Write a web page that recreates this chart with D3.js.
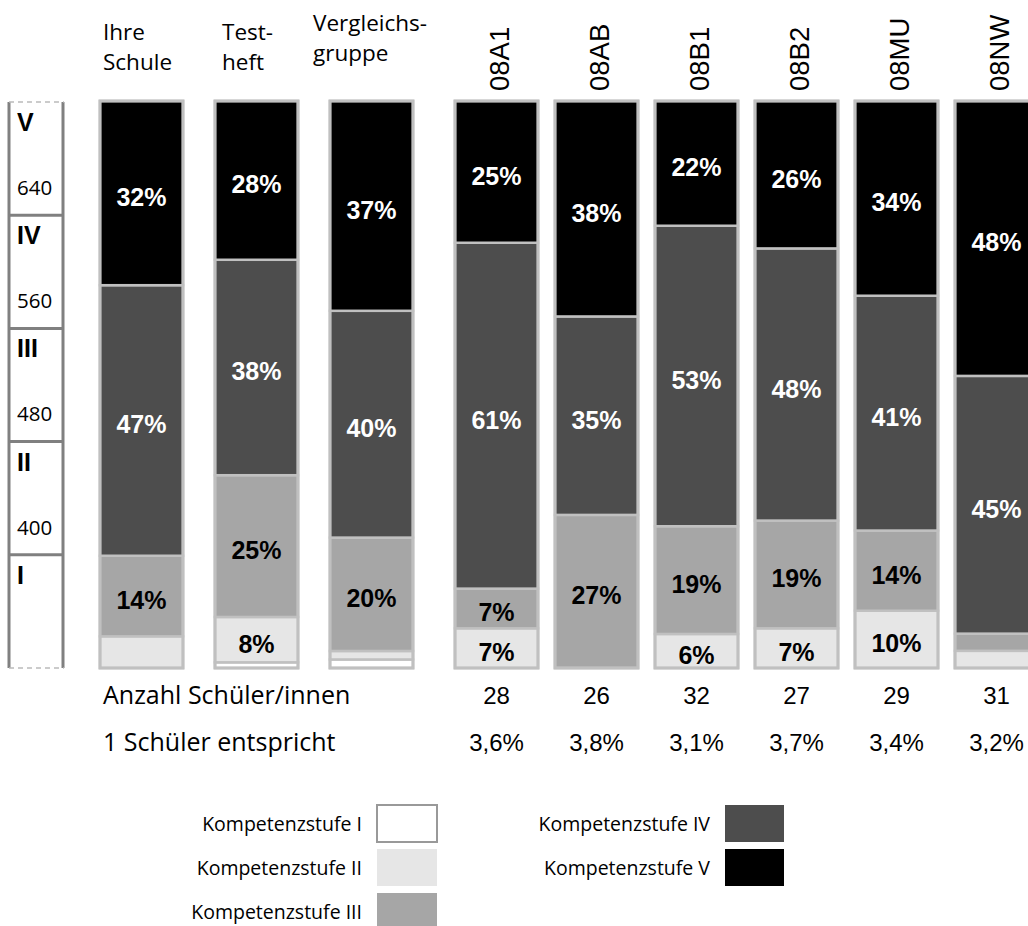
<!DOCTYPE html>
<html>
<head>
<meta charset="utf-8">
<script src="https://cdn.jsdelivr.net/npm/d3@7"></script>
<style>
  body { margin: 0; background: #fff; }
  svg { display: block; }
</style>
</head>
<body>
<div id="chart"></div>
<script>
// groups shown on the left, then the classes
var groups = ["Ihre Schule", "Testheft", "Vergleichsgruppe"];
var groupHeader = [["Ihre", "Schule"], ["Test-", "heft"], ["Vergleichs-", "gruppe"]];
var classes = ["08A1", "08AB", "08B1", "08B2", "08MU", "08NW"];

// percent per Kompetenzstufe, same order as groups + classes
var stufeV   = [32, 28, 37, 25, 38, 22, 26, 34, 48];
var stufeIV  = [47, 38, 40, 61, 35, 53, 48, 41, 45];
var stufeIII = [14, 25, 20, 7, 27, 19, 19, 14, 3];
var stufeII  = [5.5, 8, 1.5, 7, 0, 6, 7, 10, 3];
var stufeI   = [0, 1, 1.5, 0, 0, 0, 0, 0, 0];

var anzahl = [28, 26, 32, 27, 29, 31];
var entspricht = ["3,6%", "3,8%", "3,1%", "3,7%", "3,4%", "3,2%"];

var scaleLevels = ["V", "IV", "III", "II", "I"];
var scalePoints = ["640", "560", "480", "400", ""];

var legendLeft = ["Kompetenzstufe I", "Kompetenzstufe II", "Kompetenzstufe III"];
var legendRight = ["Kompetenzstufe IV", "Kompetenzstufe V"];

var keys = ["I", "II", "III", "IV", "V"];
var colors = { I: "#ffffff", II: "#e6e6e6", III: "#a6a6a6", IV: "#4d4d4d", V: "#000000" };

var width = 1028, height = 926;
var svg = d3.select("#chart").append("svg").attr("width", width).attr("height", height);

var bars = groups.concat(classes);
var data = bars.map(function (name, i) {
  return { name: name, I: stufeI[i], II: stufeII[i], III: stufeIII[i], IV: stufeIV[i], V: stufeV[i] };
});

var series = d3.stack().keys(keys).offset(d3.stackOffsetExpand)(data);

var xGroup = d3.scaleBand().domain(groups).range([84, 429]).paddingInner(0.278).paddingOuter(0.139);
var xClass = d3.scaleBand().domain(classes).range([446.5, 1046.5]).paddingInner(0.17).paddingOuter(0.085);
function xPos(name) {
  return groups.indexOf(name) >= 0 ? xGroup(name) : xClass(name);
}
var bw = xClass.bandwidth();

var y = d3.scaleLinear().domain([0, 1]).range([668, 101]);

// left scale box
var yRow = d3.scaleBand().domain(scaleLevels).range([102, 668]);
var scaleG = svg.append("g");
scaleG.append("line").attr("x1", 9).attr("x2", 9).attr("y1", 102).attr("y2", 668)
  .attr("stroke", "#808080").attr("stroke-width", 3);
scaleG.append("line").attr("x1", 63).attr("x2", 63).attr("y1", 102).attr("y2", 668)
  .attr("stroke", "#808080").attr("stroke-width", 3);
[102, 668].forEach(function (yy) {
  scaleG.append("line").attr("x1", 9).attr("x2", 64).attr("y1", yy).attr("y2", yy)
    .attr("stroke", "#bbbbbb").attr("stroke-width", 1.5).attr("stroke-dasharray", "5,4");
});
scaleG.selectAll(".sep").data(scaleLevels.slice(1)).enter().append("line")
  .attr("x1", 9).attr("x2", 63)
  .attr("y1", function (d) { return yRow(d); })
  .attr("y2", function (d) { return yRow(d); })
  .attr("stroke", "#808080").attr("stroke-width", 3);
scaleG.selectAll(".lvl").data(scaleLevels).enter().append("text")
  .attr("x", 17).attr("y", function (d) { return yRow(d) + 29; })
  .style("font-family", "Liberation Sans, Arial, sans-serif")
  .style("font-weight", "bold").style("font-size", "25px")
  .text(function (d) { return d; });
scaleG.selectAll(".pt").data(scalePoints).enter().append("text")
  .attr("x", 17).attr("y", function (d, i) { return yRow(scaleLevels[i]) + 93; })
  .style("font-family", "Open Sans, sans-serif").style("font-size", "20.5px")
  .text(function (d) { return d; });

// bars
var barG = svg.append("g");
series.forEach(function (s) {
  barG.selectAll(".seg-" + s.key).data(s.filter(function (d) { return d[1] - d[0] > 0; })).enter().append("rect")
    .attr("x", function (d) { return xPos(d.data.name); })
    .attr("width", bw)
    .attr("y", function (d) { return y(d[1]); })
    .attr("height", function (d) { return y(d[0]) - y(d[1]); })
    .attr("fill", colors[s.key])
    .attr("stroke", "#c0c0c0").attr("stroke-width", 2.5);
});
barG.selectAll(".outline").data(data).enter().append("rect")
  .attr("x", function (d) { return xPos(d.name); })
  .attr("width", bw)
  .attr("y", y(1)).attr("height", y(0) - y(1))
  .attr("fill", "none").attr("stroke", "#c0c0c0").attr("stroke-width", 3);

// percent labels
series.forEach(function (s) {
  barG.selectAll(".lab-" + s.key).data(s.filter(function (d) { return d.data[s.key] >= 6; })).enter().append("text")
    .attr("x", function (d) { return xPos(d.data.name) + bw / 2; })
    .attr("y", function (d) { return (y(d[0]) + y(d[1])) / 2 + 13; })
    .attr("text-anchor", "middle")
    .style("font-family", "Liberation Sans, Arial, sans-serif")
    .style("font-weight", "bold").style("font-size", "25px")
    .attr("fill", (s.key == "IV" || s.key == "V") ? "#fff" : "#000")
    .text(function (d) { return Math.round(d.data[s.key]) + "%"; });
});

// headers
groupHeader.forEach(function (lines, i) {
  var g = groups[i];
  var yy = i == 2 ? [31, 61] : [40, 70];
  var dx = i == 2 ? -17 : (i == 1 ? 7 : 3);
  lines.forEach(function (t, j) {
    svg.append("text").attr("x", xGroup(g) + dx).attr("y", yy[j])
      .style("font-family", "Open Sans, sans-serif").style("font-size", "22.5px")
      .text(t);
  });
});
svg.selectAll(".cls").data(classes).enter().append("text")
  .attr("transform", function (d) { return "translate(" + (xClass(d) + bw / 2 + 12) + ",91) rotate(-90)"; })
  .style("font-family", "Liberation Sans, Arial, sans-serif").style("font-size", "27.5px")
  .text(function (d) { return d; });

// counts
svg.append("text").attr("x", 103).attr("y", 704)
  .style("font-family", "Open Sans, sans-serif").style("font-size", "25px")
  .text("Anzahl Schüler/innen");
svg.append("text").attr("x", 103).attr("y", 751)
  .style("font-family", "Open Sans, sans-serif").style("font-size", "25px")
  .text("1 Schüler entspricht");
svg.selectAll(".anz").data(anzahl).enter().append("text")
  .attr("x", function (d, i) { return xClass(classes[i]) + bw / 2; })
  .attr("y", 704).attr("text-anchor", "middle")
  .style("font-family", "Liberation Sans, Arial, sans-serif").style("font-size", "24px")
  .text(function (d) { return d; });
svg.selectAll(".ent").data(entspricht).enter().append("text")
  .attr("x", function (d, i) { return xClass(classes[i]) + bw / 2; })
  .attr("y", 751).attr("text-anchor", "middle")
  .style("font-family", "Liberation Sans, Arial, sans-serif").style("font-size", "24px")
  .text(function (d) { return d; });

// legend
var legY = d3.scaleBand().domain([0, 1, 2]).range([805, 937]);
legendLeft.forEach(function (t, i) {
  var k = keys[i];
  svg.append("rect").attr("x", 377).attr("y", legY(i)).attr("width", 60).attr("height", 37)
    .attr("fill", colors[k])
    .attr("stroke", k == "I" ? "#999" : "none").attr("stroke-width", 2);
  svg.append("text").attr("x", 362).attr("y", legY(i) + 26).attr("text-anchor", "end")
    .style("font-family", "Open Sans, sans-serif").style("font-size", "19.5px")
    .text(t);
});
legendRight.forEach(function (t, i) {
  var k = keys[i + 3];
  svg.append("rect").attr("x", 725).attr("y", legY(i)).attr("width", 59).attr("height", 37)
    .attr("fill", colors[k]);
  svg.append("text").attr("x", 710).attr("y", legY(i) + 26).attr("text-anchor", "end")
    .style("font-family", "Open Sans, sans-serif").style("font-size", "19.5px")
    .text(t);
});
</script>
</body>
</html>
